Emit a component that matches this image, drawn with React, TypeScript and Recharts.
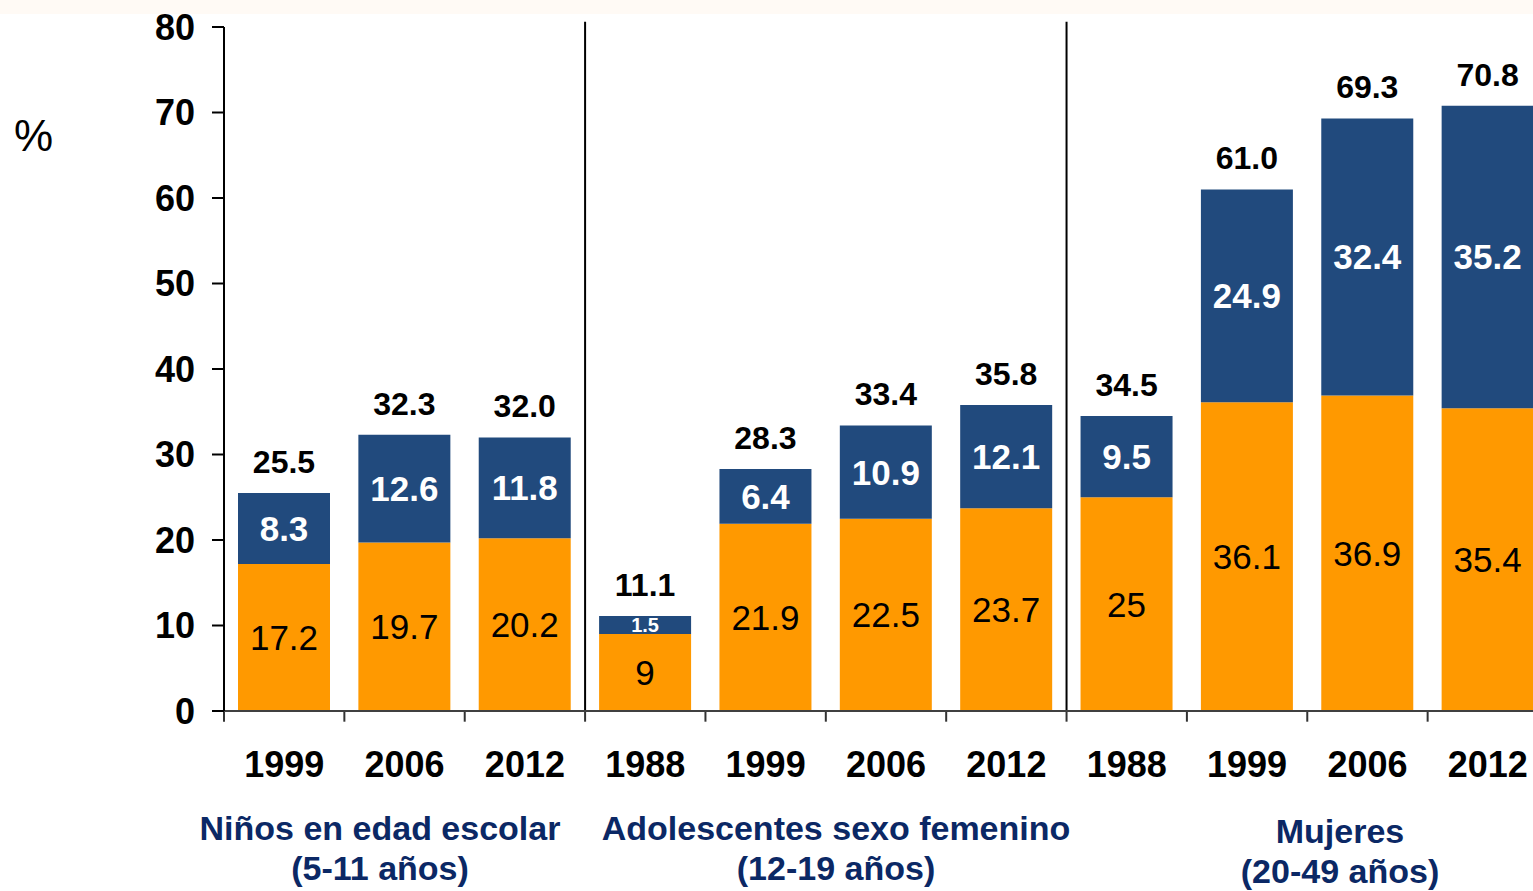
import React from "react";
import { BarChart, Bar, XAxis, YAxis, LabelList, ReferenceLine } from "recharts";

// categories (years) per group
const years = ["1999", "2006", "2012", "1988", "1999", "2006", "2012", "1988", "1999", "2006", "2012"];

// sobrepeso (orange, bottom) and obesidad (blue, top) as drawn
const sobrepeso = [17.2, 19.7, 20.2, 9.0, 21.9, 22.5, 23.7, 25.0, 36.1, 36.9, 35.4];
const obesidad = [8.3, 12.6, 11.8, 2.1, 6.4, 10.9, 12.1, 9.5, 24.9, 32.4, 35.4];

// labels as printed in the chart
const sobrepesoLabels = ["17.2", "19.7", "20.2", "9", "21.9", "22.5", "23.7", "25", "36.1", "36.9", "35.4"];
const obesidadLabels = ["8.3", "12.6", "11.8", "1.5", "6.4", "10.9", "12.1", "9.5", "24.9", "32.4", "35.2"];
const totalLabels = ["25.5", "32.3", "32.0", "11.1", "28.3", "33.4", "35.8", "34.5", "61.0", "69.3", "70.8"];

const yTicks = [0, 10, 20, 30, 40, 50, 60, 70, 80];
const groupEdges = [3, 7];
const edgeTicks = [0, 1, 2, 3, 4, 5, 6, 7, 8, 9, 10, 11];

const groups = [
  { line1: "Niños en edad escolar", line2: "(5-11 años)", cx: 380, top: 808 },
  { line1: "Adolescentes sexo femenino", line2: "(12-19 años)", cx: 836, top: 808 },
  { line1: "Mujeres", line2: "(20-49 años)", cx: 1340, top: 811 },
];

const data = years.map((year, i) => ({
  year,
  idx: i,
  sobrepeso: sobrepeso[i],
  obesidad: obesidad[i],
}));

const ORANGE = "#FF9900";
const BLUE = "#214A7D";
const NAVY = "#0B2865";
const FONT = "'Liberation Sans', Arial, sans-serif";

const renderInner = (labels: string[], color: string, bold: boolean) => (props: any) => {
  const { x, y, width, height, index } = props;
  const text = labels[index];
  const small = height < 30;
  return (
    <text
      x={x + width / 2}
      y={y + height / 2}
      textAnchor="middle"
      dominantBaseline="central"
      fill={color}
      fontFamily={FONT}
      fontWeight={bold ? 700 : 400}
      fontSize={small ? 20 : 35}
    >
      {text}
    </text>
  );
};

const renderTotal = (props: any) => {
  const { x, y, width, index } = props;
  return (
    <text
      x={x + width / 2}
      y={y - 31}
      textAnchor="middle"
      dominantBaseline="central"
      fill="#000"
      fontFamily={FONT}
      fontWeight={700}
      fontSize={32}
    >
      {totalLabels[index]}
    </text>
  );
};

export default function App() {
  return (
    <div
      style={{
        position: "fixed",
        left: 0,
        top: 0,
        width: 1533,
        height: 891,
        overflow: "hidden",
        background: "#fff",
        fontFamily: FONT,
      }}
    >
      <div style={{ position: "absolute", left: 0, top: 0, width: 1533, height: 14, background: "#FFFAF5" }} />
      <BarChart
        width={1540}
        height={883}
        data={data}
        margin={{ top: 19, right: 0, bottom: 100, left: 0 }}
        style={{ position: "absolute", left: 8, top: 8 }}
      >
        <XAxis
          dataKey="year"
          height={80}
          interval={0}
          tickLine={false}
          tickSize={0}
          tickMargin={40}
          axisLine={{ stroke: "#404040", strokeWidth: 2 }}
          tick={{ fill: "#000", fontSize: 36, fontWeight: 700, fontFamily: FONT }}
        />
        <XAxis xAxisId="edges" type="number" dataKey="idx" domain={[0, 11]} hide />
        <YAxis
          width={216}
          domain={[0, 80]}
          ticks={yTicks}
          interval={0}
          tickSize={12}
          tickMargin={17}
          axisLine={{ stroke: "#000", strokeWidth: 2 }}
          tickLine={{ stroke: "#000", strokeWidth: 2 }}
          tick={{ fill: "#000", fontSize: 36, fontWeight: 700, fontFamily: FONT }}
        />
        {groupEdges.map((e) => (
          <ReferenceLine
            key={"g" + e}
            xAxisId="edges"
            segment={[{ x: e, y: 80.6 }, { x: e, y: 0 }]}
            stroke="#000"
            strokeWidth={2}
            ifOverflow="visible"
          />
        ))}
        {edgeTicks.map((e) => (
          <ReferenceLine
            key={"t" + e}
            xAxisId="edges"
            segment={[{ x: e, y: 0 }, { x: e, y: -1.25 }]}
            stroke="#333"
            strokeWidth={2}
            ifOverflow="visible"
          />
        ))}
        <Bar dataKey="sobrepeso" stackId="a" fill={ORANGE} barSize={92} isAnimationActive={false}>
          <LabelList dataKey="sobrepeso" content={renderInner(sobrepesoLabels, "#000", false)} />
        </Bar>
        <Bar dataKey="obesidad" stackId="a" fill={BLUE} barSize={92} isAnimationActive={false}>
          <LabelList dataKey="obesidad" content={renderInner(obesidadLabels, "#fff", true)} />
          <LabelList dataKey="obesidad" content={renderTotal} />
        </Bar>
      </BarChart>
      <div style={{ position: "absolute", left: 14, top: 114, fontSize: 44, color: "#000", lineHeight: 1 }}>%</div>
      {groups.map((g) => (
        <div
          key={g.line1}
          style={{
            position: "absolute",
            left: g.cx - 300,
            width: 600,
            top: g.top,
            textAlign: "center",
            color: NAVY,
            fontWeight: 700,
            fontSize: 34,
            lineHeight: "40px",
          }}
        >
          <div>{g.line1}</div>
          <div>{g.line2}</div>
        </div>
      ))}
    </div>
  );
}
